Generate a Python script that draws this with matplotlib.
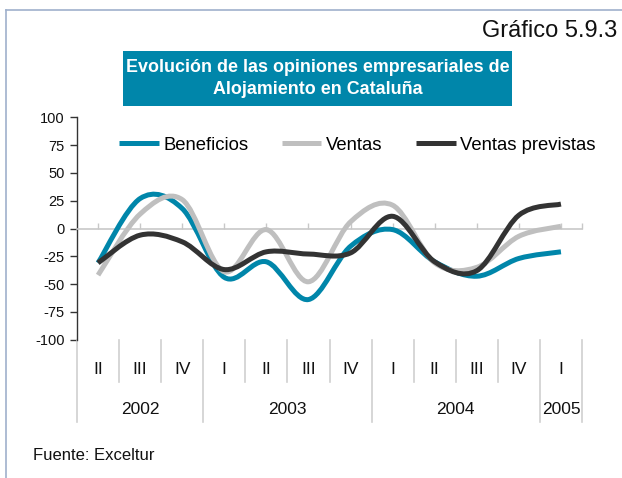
import numpy as np
import matplotlib
matplotlib.use("Agg")
import matplotlib.pyplot as plt
from matplotlib.path import Path
from matplotlib.patches import PathPatch, Rectangle
from matplotlib.lines import Line2D
import matplotlib.transforms as mtransforms

plt.rcParams['font.family'] = ['Liberation Sans', 'DejaVu Sans']

# ---------------- data ----------------
quarters = ["II", "III", "IV", "I", "II", "III", "IV", "I", "II", "III", "IV", "I"]
years = ["2002", "2003", "2004", "2005"]
year_spans = [(0, 2), (3, 6), (7, 10), (11, 11)]   # first/last category index of each year
beneficios = [-31, 27, 18, -44, -30, -64, -16, -1, -30, -43, -27, -21]
ventas = [-42, 13, 26, -39, -1, -48, 6, 21, -31, -35, -7, 2]
ventas_previstas = [-31, -6, -12, -37, -21, -23, -22, 11, -30, -38, 12, 22]
series_names = ["Beneficios", "Ventas", "Ventas previstas"]
series_colors = ["#0086AA", "#BFBFBF", "#333333"]

W, H = 622, 478
fig = plt.figure(figsize=(W / 100, H / 100), dpi=100)

def fx(px):
    return px / W

def fy(py):
    return 1 - py / H

# axes placement (pixels): x 77..582, y 117.5..339.5
ax = fig.add_axes([fx(77), fy(339.5), fx(582 - 77), (339.5 - 117.5) / H])
n = len(quarters)
ax.set_xlim(-0.5, n - 0.5)
ax.set_ylim(-100, 100)
ax.patch.set_alpha(0)

for s in ["top", "right"]:
    ax.spines[s].set_visible(False)
ax.spines["left"].set_color("#333333")
ax.spines["left"].set_linewidth(1.0)
ax.spines["bottom"].set_position(("data", 0))
ax.spines["bottom"].set_color("#C8C8C8")
ax.spines["bottom"].set_linewidth(1.2)

ax.set_yticks(np.arange(-100, 101, 25))
ax.set_yticklabels([str(v) for v in range(-100, 101, 25)])
ax.tick_params(axis="y", direction="out", length=5, width=1, color="#333333",
               labelsize=10.5, pad=4, labelcolor="#111111")
ax.set_xticks(list(range(n)) + [n - 0.5])
ax.tick_params(axis="x", direction="in", length=4, width=1, color="#C8C8C8",
               labelbottom=False)

def smooth_path(ys):
    xs = np.arange(len(ys), dtype=float)
    pts = np.column_stack([xs, np.asarray(ys, dtype=float)])
    ext = np.vstack([pts[0], pts, pts[-1]])
    verts = [pts[0]]
    codes = [Path.MOVETO]
    for i in range(len(pts) - 1):
        p0, p1, p2, p3 = ext[i], ext[i + 1], ext[i + 2], ext[i + 3]
        c1 = p1 + (p2 - p0) / 6.0
        c2 = p2 - (p3 - p1) / 6.0
        verts += [c1, c2, p2]
        codes += [Path.CURVE4] * 3
    return Path(np.array(verts), codes)

handles = []
for ys, name, col in zip([beneficios, ventas, ventas_previstas], series_names, series_colors):
    patch = PathPatch(smooth_path(ys), facecolor="none", edgecolor=col, lw=3.6,
                      capstyle="butt", joinstyle="round", zorder=3)
    ax.add_patch(patch)
    handles.append(Line2D([], [], color=col, lw=3.6, solid_capstyle="butt", label=name))

leg = fig.legend(handles=handles, loc="center left",
                 bbox_to_anchor=(fx(119), fy(145)), ncol=3, frameon=False,
                 fontsize=13.3, handlelength=2.15, handletextpad=0.25,
                 columnspacing=1.8, borderpad=0, borderaxespad=0)

# category separators and labels below the plot
trans = mtransforms.blended_transform_factory(ax.transData, fig.transFigure)
sep_color = "#D0D0D0"
year_bounds = set([-0.5] + [span[1] + 0.5 for span in year_spans])
for b in np.arange(-0.5, n, 1.0):
    bottom = 422 if b in year_bounds else 382
    ax.add_line(Line2D([b, b], [fy(340), fy(bottom)], transform=trans, color=sep_color,
                       lw=1.2, clip_on=False))
for i, q in enumerate(quarters):
    ax.text(i, fy(370), q, transform=trans, ha="center", va="center", fontsize=12.5,
            color="#111111")
for yr, (a, b) in zip(years, year_spans):
    ax.text((a + b) / 2, fy(410), yr, transform=trans, ha="center", va="center",
            fontsize=12.5, color="#111111")

# title box
fig.patches.append(Rectangle((fx(123), fy(106)), fx(512 - 123), (106 - 51) / H,
                             transform=fig.transFigure, facecolor="#0086AA",
                             edgecolor="none", zorder=1))
fig.text(fx(318), fy(67), "Evolución de las opiniones empresariales de", ha="center",
         va="center", color="white", fontsize=12.9, fontweight="bold")
fig.text(fx(318), fy(89.5), "Alojamiento en Cataluña", ha="center", va="center",
         color="white", fontsize=12.9, fontweight="bold")

fig.text(fx(617), fy(31), "Gráfico 5.9.3", ha="right", va="center", fontsize=17,
         color="#111111")
fig.text(fx(33), fy(455), "Fuente: Exceltur", ha="left", va="center", fontsize=12,
         color="#111111")

# outer frame (left and top)
frame_col = "#9FB0CC"
fig.add_artist(Line2D([fx(6), fx(6)], [fy(10), 0], transform=fig.transFigure,
                      color=frame_col, lw=1.2))
fig.add_artist(Line2D([fx(6), 1], [fy(10), fy(10)], transform=fig.transFigure,
                      color=frame_col, lw=1.2))

fig.savefig("out.png", dpi=100)
